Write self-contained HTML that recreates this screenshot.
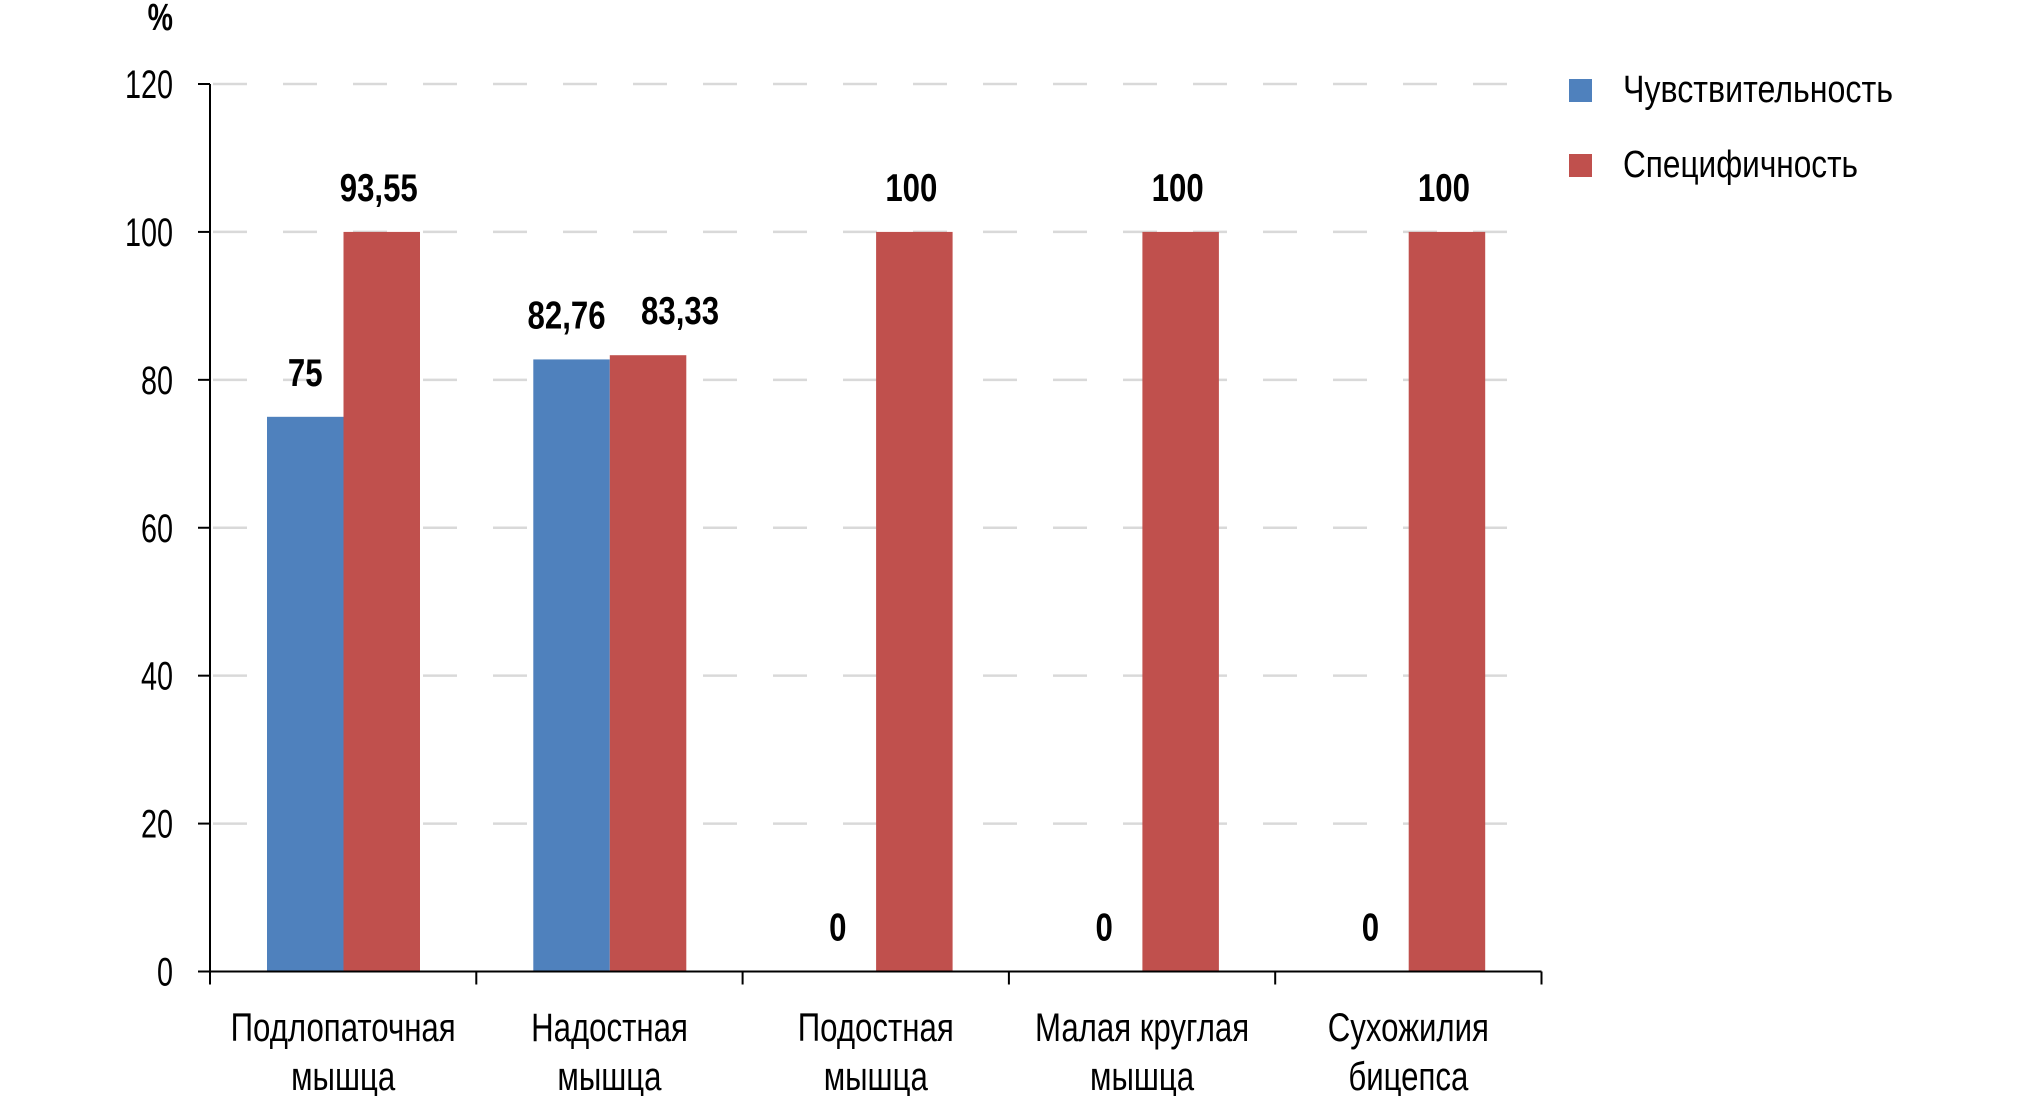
<!DOCTYPE html>
<html><head><meta charset="utf-8"><style>
html,body{margin:0;padding:0;background:#fff;}
svg{display:block;font-family:"Liberation Sans","DejaVu Sans Condensed",sans-serif;}
</style></head><body>
<svg id="chart" width="2020" height="1096" viewBox="0 0 2020 1096" xmlns="http://www.w3.org/2000/svg">
<g id="grid"></g><g id="bars"></g><g id="axes"></g><g id="labels"></g>
<text transform="translate(173,30) scale(0.75,1)" x="0" y="0" font-size="38" text-anchor="end" font-weight="bold">%</text>
<g>
 <rect x="1569" y="79" width="23" height="23" fill="#4f81bd"/>
 <text x="1623" y="102" font-size="38" textLength="270" lengthAdjust="spacingAndGlyphs">Чувствительность</text>
 <rect x="1569" y="154" width="23" height="23" fill="#c0504d"/>
 <text x="1623" y="177" font-size="38" textLength="235" lengthAdjust="spacingAndGlyphs">Специфичность</text>
</g>
</svg>
<script>
const categories=[["Подлопаточная","мышца"],["Надостная","мышца"],["Подостная","мышца"],["Малая круглая","мышца"],["Сухожилия","бицепса"]];
const sensValues=[75,82.76,0,0,0];
const specValues=[100,83.33,100,100,100];
const sensLabels=["75","82,76","0","0","0"];
const specLabels=["93,55","83,33","100","100","100"];
const yTicks=[0,20,40,60,80,100,120];

const NS="http://www.w3.org/2000/svg";
const X0=210,CW=266.3,Y0=971.5,PX=(971.5-84)/120;
const BW=76.5,GAP=57;
function y(v){return Y0-v*PX;}
function xc(i){return X0+i*CW;}
function mk(tag,attrs,parent,txt){const e=document.createElementNS(NS,tag);for(const k in attrs)e.setAttribute(k,attrs[k]);if(txt!==undefined)e.textContent=txt;parent.appendChild(e);return e;}
function txt(x,yy,sx,attrs,s){const a=Object.assign({x:0,y:0,transform:'translate('+x+','+yy+') scale('+sx+',1)'},attrs);return mk('text',a,labels,s);}
const grid=document.getElementById('grid'),bars=document.getElementById('bars'),axes=document.getElementById('axes'),labels=document.getElementById('labels');
const gridEnd=xc(categories.length)-8;

yTicks.forEach(t=>{
  if(t>0){
    const g=mk('line',{x1:X0+3,x2:gridEnd,y1:y(t),y2:y(t),stroke:'#d9d9d9','stroke-width':2.5,'stroke-dasharray':'34 36'},grid);
    
    
  }
  const tk=mk('line',{x1:X0-12,x2:X0,y1:y(t),y2:y(t),stroke:'#000','stroke-width':2},axes);
  
  
  const tl=txt(173,y(t)+14,0.72,{'font-size':40,'text-anchor':'end'},String(t));
  
  
});

const ya=mk('line',{x1:X0,x2:X0,y1:y(120),y2:Y0,stroke:'#000','stroke-width':2},axes);


const xa=mk('line',{x1:X0-12,x2:xc(categories.length),y1:Y0,y2:Y0,stroke:'#000','stroke-width':2},axes);



for(let i=0;i<=categories.length;i++){
  const t=mk('line',{x1:xc(i),x2:xc(i),y1:Y0,y2:Y0+13,stroke:'#000','stroke-width':2},axes);
  
  
}

categories.forEach((c,i)=>{
  const bx=xc(i)+GAP;
  const b1=mk('rect',{x:bx,y:y(sensValues[i]),width:BW,height:Y0-y(sensValues[i]),fill:'#4f81bd'},bars);
  
  
  const b2=mk('rect',{x:bx+BW,y:y(specValues[i]),width:BW,height:Y0-y(specValues[i]),fill:'#c0504d'},bars);
  
  
  // nudge labels apart when the two bars are nearly equal height
  const close=Math.abs(sensValues[i]-specValues[i])<8;
  const d1=close?-5:0, d2=close?32:-3;
  const l1=txt(bx+BW/2+d1,y(sensValues[i])-31,0.8,{'font-size':39,'font-weight':'bold','text-anchor':'middle'},sensLabels[i]);
  
  
  const l2=txt(bx+BW*1.5+d2,y(specValues[i])-31,0.8,{'font-size':39,'font-weight':'bold','text-anchor':'middle'},specLabels[i]);
  
  
  const cx=xc(i)+CW/2;
  const t1=txt(cx,1041,0.78,{'font-size':40,'text-anchor':'middle'},c[0]);
  
  
  const t2=txt(cx,1090,0.78,{'font-size':40,'text-anchor':'middle'},c[1]);
  
  
});
</script>
</body></html>
